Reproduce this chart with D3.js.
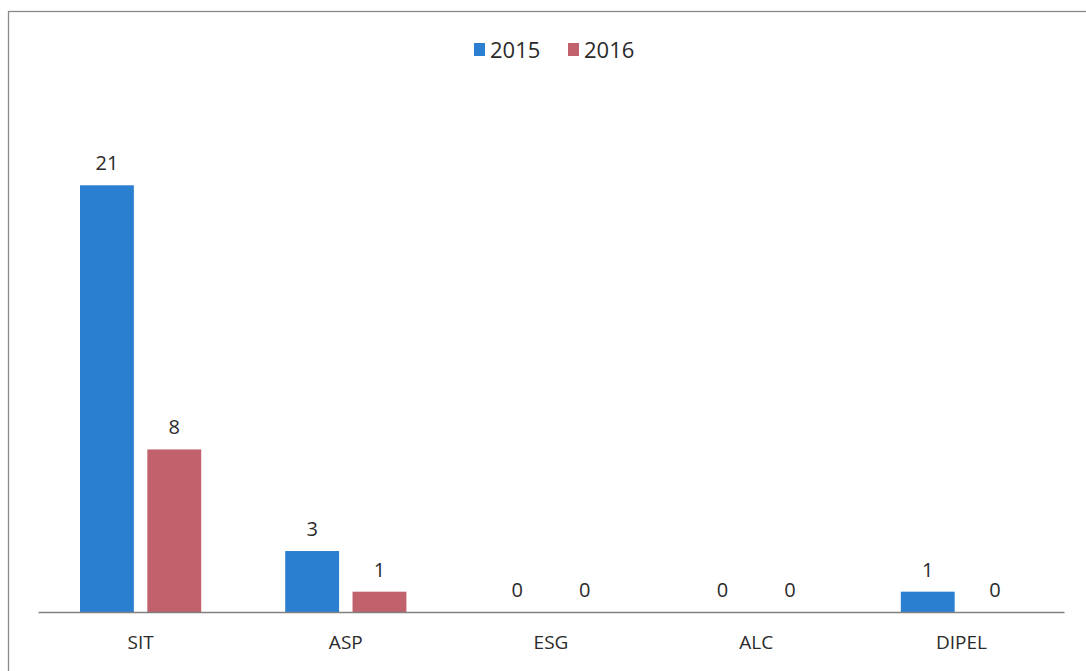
<!DOCTYPE html>
<html>
<head>
<meta charset="utf-8">
<script src="https://cdn.jsdelivr.net/npm/d3@7"></script>
<style>
  html, body { margin: 0; padding: 0; background: #fff; }
  svg { display: block; }
</style>
</head>
<body>
<svg id="chart" width="1086" height="671"></svg>
<script>
// Chart data
const categories = ["SIT", "ASP", "ESG", "ALC", "DIPEL"];
const seriesNames = ["2015", "2016"];
const values2015 = [21, 3, 0, 0, 1];
const values2016 = [8, 1, 0, 0, 0];
const seriesColors = ["#2b7fd0", "#c0616b"];

const svg = d3.select("#chart");
const W = 1086, H = 671;
const font = "'Open Sans', 'Liberation Sans', sans-serif";

// Outer frame
svg.append("rect")
  .attr("x", 8.5).attr("y", 11.5)
  .attr("width", W + 10).attr("height", H + 10)
  .attr("fill", "none").attr("stroke", "#8a8a8a").attr("stroke-width", 1.3);

const plot = { left: 38, right: 1064, top: 104, bottom: 612 };

const x0 = d3.scaleBand().domain(categories).range([plot.left, plot.right]).paddingInner(0).paddingOuter(0);
const x1 = d3.scaleBand().domain(seriesNames)
  .range([42, x0.bandwidth() - 42]).paddingInner(0.2).paddingOuter(0);
const y = d3.scaleLinear().domain([0, 25]).range([plot.bottom, plot.top]);

const rows = categories.map((c, i) => ({
  cat: c,
  vals: [
    { s: seriesNames[0], v: values2015[i], color: seriesColors[0] },
    { s: seriesNames[1], v: values2016[i], color: seriesColors[1] }
  ]
}));

const groups = svg.append("g").selectAll("g").data(rows).join("g")
  .attr("transform", d => `translate(${x0(d.cat)},0)`);

groups.selectAll("rect").data(d => d.vals).join("rect")
  .attr("x", d => x1(d.s))
  .attr("width", x1.bandwidth())
  .attr("y", d => y(d.v))
  .attr("height", d => y(0) - y(d.v))
  .attr("fill", d => d.color);

// Value labels
groups.selectAll("text").data(d => d.vals).join("text")
  .attr("x", d => x1(d.s) + x1.bandwidth() / 2)
  .attr("y", d => y(d.v) - 15)
  .attr("text-anchor", "middle")
  .attr("font-family", font).attr("font-size", 20)
  .attr("fill", "#2a2a2a")
  .text(d => d.v);

// Category axis
const xAxis = svg.append("g")
  .attr("transform", `translate(0,${plot.bottom})`)
  .call(d3.axisBottom(x0).tickSize(0).tickPadding(24));
xAxis.select(".domain").attr("stroke", "#808080").attr("stroke-width", 1.3);
xAxis.selectAll("text")
  .attr("font-family", font).attr("font-size", 19).attr("fill", "#2a2a2a");

// Legend
const legend = svg.append("g").attr("transform", "translate(474,43)");
const legendItems = legend.selectAll("g").data(seriesNames).join("g")
  .attr("transform", (d, i) => `translate(${i * 94},0)`);
legendItems.append("rect")
  .attr("width", 11).attr("height", 13)
  .attr("fill", (d, i) => seriesColors[i]);
legendItems.append("text")
  .attr("x", 16).attr("y", 15)
  .attr("font-family", font).attr("font-size", 22)
  .attr("fill", "#2a2a2a")
  .text(d => d);
</script>
</body>
</html>
